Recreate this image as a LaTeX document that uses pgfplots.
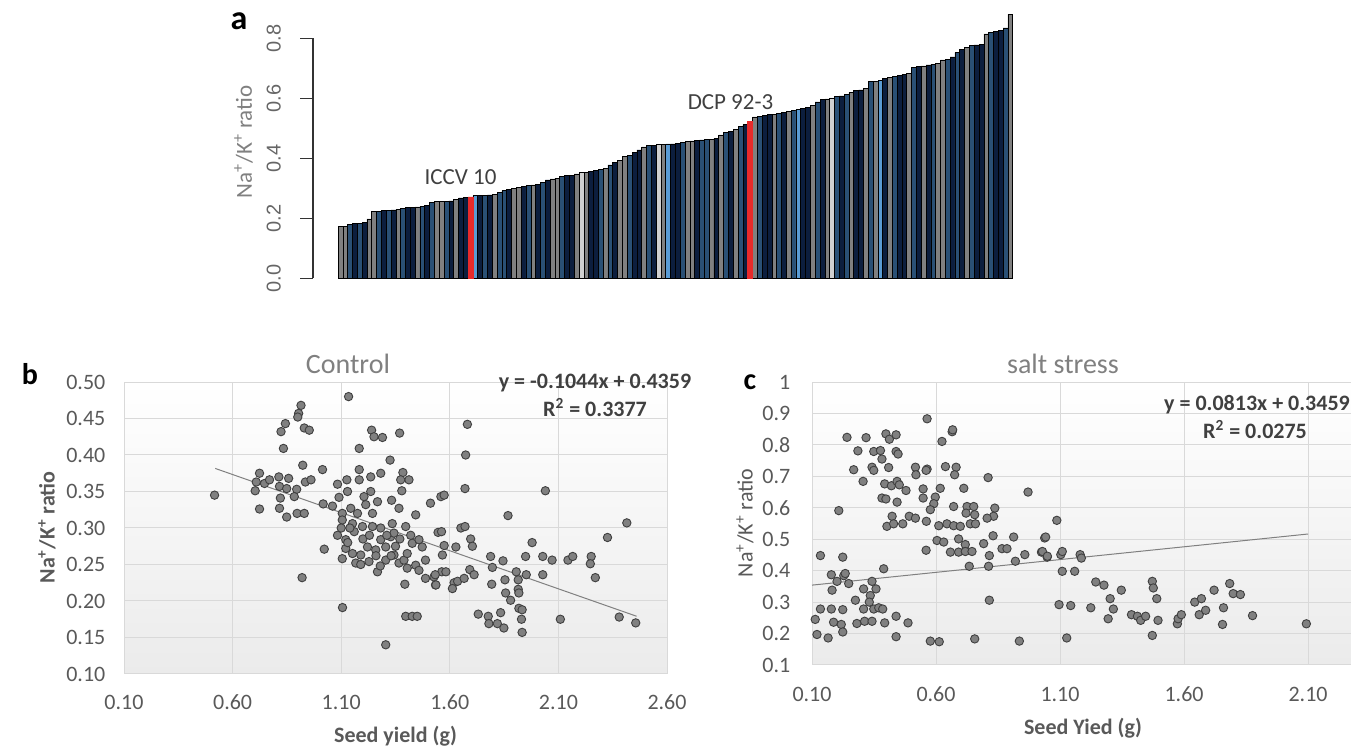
\documentclass[border=0pt]{standalone}
\usepackage{pgfplots}
\pgfplotsset{compat=1.18}
\usepackage{pgfplotstable}
\usepackage{fontspec}
\setmainfont{Carlito}
\newfontfamily\arialf{Liberation Sans}
\definecolor{cgray}{HTML}{808080}
\definecolor{cnavy}{HTML}{0C1E3E}
\definecolor{csteel}{HTML}{2A5075}
\definecolor{cblue}{HTML}{5A9BD3}
\definecolor{clgray}{HTML}{D0D0D0}
\definecolor{cred}{HTML}{E82A2A}
\definecolor{gridc}{HTML}{D9D9D9}
\definecolor{tickc}{HTML}{595959}
\definecolor{bgc}{HTML}{EBEBEB}
\definecolor{mkfill}{HTML}{808080}
\definecolor{mkedge}{HTML}{3F3F3F}
\definecolor{eqc}{HTML}{404040}

\pgfplotstableread{
i v c
0 0.174 0
1 0.174 0
2 0.180 2
3 0.183 1
4 0.183 2
5 0.186 1
6 0.198 0
7 0.222 0
8 0.224 2
9 0.225 1
10 0.226 2
11 0.228 1
12 0.230 0
13 0.234 2
14 0.236 1
15 0.237 1
16 0.238 0
17 0.239 2
18 0.242 1
19 0.252 2
20 0.255 0
21 0.256 0
22 0.257 2
23 0.258 1
24 0.263 0
25 0.268 1
26 0.270 1
27 0.271 5
28 0.275 3
29 0.276 1
30 0.277 2
31 0.278 1
32 0.280 0
33 0.285 2
34 0.292 2
35 0.296 1
36 0.299 0
37 0.302 0
38 0.306 1
39 0.309 2
40 0.311 0
41 0.313 1
42 0.320 2
43 0.328 1
44 0.331 0
45 0.334 0
46 0.340 2
47 0.342 1
48 0.344 1
49 0.348 0
50 0.352 4
51 0.354 0
52 0.357 1
53 0.360 1
54 0.362 2
55 0.365 0
56 0.378 2
57 0.385 1
58 0.392 0
59 0.405 0
60 0.410 2
61 0.420 1
62 0.428 1
63 0.438 0
64 0.442 2
65 0.444 1
66 0.446 4
67 0.447 0
68 0.448 3
69 0.448 1
70 0.449 1
71 0.452 2
72 0.455 0
73 0.458 0
74 0.460 1
75 0.461 2
76 0.462 2
77 0.463 0
78 0.466 1
79 0.478 0
80 0.485 2
81 0.490 1
82 0.497 0
83 0.505 2
84 0.512 1
85 0.524 5
86 0.538 0
87 0.540 2
88 0.542 1
89 0.545 1
90 0.547 0
91 0.550 2
92 0.553 1
93 0.556 0
94 0.560 2
95 0.563 3
96 0.566 1
97 0.570 1
98 0.575 0
99 0.588 2
100 0.595 1
101 0.598 0
102 0.601 4
103 0.605 2
104 0.608 1
105 0.612 2
106 0.620 0
107 0.626 1
108 0.628 1
109 0.632 0
110 0.655 2
111 0.657 0
112 0.659 3
113 0.665 1
114 0.670 0
115 0.674 2
116 0.677 1
117 0.680 1
118 0.684 0
119 0.702 2
120 0.706 1
121 0.708 0
122 0.711 1
123 0.714 2
124 0.716 0
125 0.728 0
126 0.730 2
127 0.738 1
128 0.752 2
129 0.762 1
130 0.770 0
131 0.776 2
132 0.778 1
133 0.779 1
134 0.815 0
135 0.820 2
136 0.823 1
137 0.827 1
138 0.835 2
139 0.880 0
}\bardata

\pgfplotstableread{
x y
0.517 0.345
0.915 0.468
0.904 0.457
0.900 0.452
0.843 0.443
0.823 0.432
0.930 0.437
0.953 0.434
0.834 0.409
0.923 0.386
1.014 0.380
0.724 0.375
0.709 0.363
0.747 0.361
0.770 0.366
0.813 0.370
0.858 0.368
0.704 0.351
0.816 0.357
0.849 0.354
0.895 0.353
0.935 0.363
0.961 0.366
0.820 0.341
0.816 0.327
0.884 0.343
0.724 0.326
0.849 0.315
0.897 0.320
0.930 0.320
1.017 0.333
1.060 0.330
1.083 0.360
1.126 0.366
1.090 0.342
1.129 0.350
1.134 0.480
1.183 0.409
1.240 0.434
1.251 0.425
1.290 0.424
1.369 0.430
1.325 0.393
1.183 0.380
1.183 0.366
1.236 0.370
1.282 0.375
1.384 0.376
1.412 0.366
1.374 0.366
1.379 0.351
1.236 0.350
1.205 0.343
1.267 0.336
1.213 0.332
1.244 0.320
1.332 0.338
1.366 0.327
1.105 0.320
1.144 0.327
1.175 0.320
1.105 0.311
1.152 0.306
1.443 0.318
1.511 0.334
1.083 0.290
1.121 0.284
1.160 0.295
1.198 0.302
1.244 0.302
1.282 0.300
1.335 0.306
1.397 0.302
1.022 0.271
1.105 0.258
1.121 0.272
1.152 0.265
1.167 0.252
1.190 0.263
1.221 0.274
1.259 0.270
1.228 0.254
1.267 0.240
1.282 0.284
1.305 0.274
1.328 0.288
1.343 0.293
1.305 0.256
1.343 0.263
1.366 0.252
1.389 0.256
1.404 0.265
1.427 0.279
1.404 0.245
1.443 0.249
1.458 0.284
1.473 0.274
1.488 0.256
1.458 0.242
1.488 0.231
1.527 0.233
1.534 0.222
1.546 0.294
1.393 0.223
0.920 0.232
1.106 0.191
1.397 0.179
1.427 0.179
1.450 0.179
1.305 0.140
1.130 0.280
1.200 0.285
1.260 0.262
1.310 0.290
1.350 0.275
1.190 0.250
1.280 0.248
1.330 0.262
1.140 0.300
1.370 0.285
1.420 0.290
1.100 0.300
1.230 0.290
1.681 0.442
1.673 0.400
1.670 0.354
2.040 0.351
1.868 0.317
2.415 0.307
2.326 0.287
1.559 0.343
1.574 0.345
1.562 0.295
1.651 0.300
1.670 0.302
1.696 0.285
1.704 0.275
1.574 0.276
1.628 0.274
1.566 0.263
1.979 0.280
1.788 0.261
1.796 0.246
1.845 0.255
1.949 0.261
2.028 0.261
2.071 0.256
2.144 0.256
2.166 0.261
2.251 0.261
2.247 0.251
2.270 0.232
1.563 0.240
1.582 0.240
1.533 0.236
1.536 0.222
1.620 0.225
1.636 0.227
1.666 0.231
1.612 0.217
1.692 0.243
1.712 0.236
1.793 0.223
1.854 0.229
1.857 0.211
1.906 0.240
1.915 0.229
1.915 0.216
1.918 0.211
1.952 0.236
2.028 0.236
1.880 0.201
1.918 0.190
1.933 0.188
1.930 0.175
1.933 0.157
1.731 0.182
1.777 0.179
1.780 0.169
1.819 0.169
1.834 0.184
1.849 0.163
2.109 0.175
2.380 0.178
2.456 0.170
}\controldata

\pgfplotstableread{
x y
0.564 0.883
0.665 0.842
0.667 0.848
0.624 0.811
0.241 0.824
0.318 0.823
0.398 0.835
0.412 0.818
0.439 0.832
0.285 0.781
0.349 0.779
0.376 0.782
0.439 0.779
0.447 0.771
0.382 0.755
0.268 0.721
0.342 0.729
0.349 0.719
0.409 0.728
0.306 0.684
0.517 0.729
0.519 0.705
0.564 0.723
0.560 0.719
0.638 0.731
0.681 0.729
0.675 0.705
0.810 0.696
0.393 0.676
0.420 0.670
0.443 0.684
0.452 0.673
0.479 0.655
0.548 0.660
0.617 0.662
0.712 0.662
0.971 0.650
0.382 0.631
0.398 0.628
0.443 0.618
0.548 0.631
0.597 0.634
0.591 0.613
0.208 0.591
0.577 0.594
0.671 0.604
0.725 0.604
0.752 0.604
0.721 0.583
0.756 0.578
0.837 0.599
0.832 0.573
0.806 0.567
0.423 0.573
0.402 0.541
0.429 0.549
0.466 0.549
0.492 0.573
0.517 0.567
0.561 0.557
0.611 0.543
0.644 0.549
0.671 0.543
0.698 0.541
0.738 0.549
0.759 0.549
0.830 0.511
0.913 0.507
1.038 0.504
0.604 0.496
0.631 0.491
0.691 0.501
0.718 0.483
0.560 0.465
0.658 0.459
0.691 0.459
0.718 0.461
0.745 0.461
0.792 0.486
0.815 0.448
0.812 0.414
0.866 0.470
0.886 0.470
0.958 0.451
0.920 0.430
1.025 0.459
1.048 0.443
0.734 0.414
0.134 0.448
0.224 0.443
0.389 0.406
0.178 0.387
0.228 0.384
0.234 0.391
0.201 0.366
0.248 0.359
0.181 0.338
0.342 0.366
0.358 0.342
0.308 0.342
0.335 0.321
0.275 0.306
0.331 0.300
0.349 0.278
0.369 0.282
0.308 0.278
0.385 0.278
0.815 0.306
0.134 0.278
0.178 0.278
0.224 0.276
0.113 0.245
0.187 0.236
0.218 0.229
0.224 0.205
0.281 0.232
0.312 0.239
0.342 0.239
0.393 0.234
0.439 0.255
0.487 0.234
0.120 0.197
0.165 0.186
0.439 0.190
0.577 0.176
0.613 0.174
0.756 0.183
0.936 0.176
1.087 0.560
1.042 0.507
1.029 0.461
1.049 0.446
1.103 0.451
1.109 0.461
1.181 0.451
1.186 0.440
1.109 0.398
1.159 0.398
1.244 0.364
1.277 0.354
1.347 0.338
1.302 0.311
1.315 0.278
1.294 0.247
1.224 0.282
1.096 0.292
1.143 0.289
1.127 0.186
1.388 0.260
1.412 0.255
1.425 0.242
1.445 0.255
1.472 0.366
1.476 0.345
1.490 0.311
1.495 0.242
1.472 0.194
1.573 0.231
1.576 0.247
1.589 0.260
1.643 0.300
1.670 0.311
1.661 0.260
1.687 0.274
1.721 0.338
1.759 0.282
1.755 0.229
1.784 0.359
1.798 0.327
1.827 0.324
1.876 0.257
2.093 0.231
}\saltdata

\pgfplotsset{
  excelstyle/.style={
    anchor=south west, scale only axis,
    grid=major, grid style={draw=gridc, line width=0.5pt},
    axis line style={draw=gridc, line width=0.5pt},
    major tick length=0pt,
    tick label style={font=\fontsize{11pt}{13pt}\selectfont, text=tickc},
    axis background/.style={top color=white, bottom color=bgc},
    clip=false,
  },
  barstyle/.style={ybar, bar width=1, bar shift=0pt, draw=black, line width=0.3pt, fill=#1},
  dotstyle/.style={only marks, mark=*, mark size=2.1pt, mark options={fill=mkfill, draw=mkedge, line width=0.45pt}},
}

\begin{document}
\begin{tikzpicture}
\path[use as bounding box] (0,0) rectangle (675.5pt,374.5pt);

% ---------------- panel a
\begin{axis}[
  at={(156.5pt,235.35pt)}, anchor=south west, scale only axis,
  width=351.1pt, height=120pt,
  xmin=-5.69, xmax=140, ymin=0, ymax=0.8,
  clip=false,
  axis x line=none, axis y line*=left,
  ytick={0,0.2,0.4,0.6,0.8},
  yticklabels={0.0,0.2,0.4,0.6,0.8},
  tick align=outside, major tick length=6.5pt,
  y axis line style={draw=black!80, line width=0.7pt},
  ytick style={draw=black!80, line width=0.7pt},
  yticklabel style={rotate=90, anchor=south, font=\arialf\fontsize{10pt}{12pt}\selectfont, text=black!60},
  yticklabel shift=6pt,
]
\addplot[barstyle=cgray, restrict expr to domain={\thisrow{c}}{0:0}] table[x=i,y=v]{\bardata};
\addplot[barstyle=cnavy, restrict expr to domain={\thisrow{c}}{1:1}] table[x=i,y=v]{\bardata};
\addplot[barstyle=csteel, restrict expr to domain={\thisrow{c}}{2:2}] table[x=i,y=v]{\bardata};
\addplot[barstyle=cblue, restrict expr to domain={\thisrow{c}}{3:3}] table[x=i,y=v]{\bardata};
\addplot[barstyle=clgray, restrict expr to domain={\thisrow{c}}{4:4}] table[x=i,y=v]{\bardata};
\addplot[barstyle=cred, draw=cred, restrict expr to domain={\thisrow{c}}{5:5}] table[x=i,y=v]{\bardata};
\end{axis}
\node[font=\bfseries\fontsize{17pt}{19pt}\selectfont] at (119.5pt,364pt) {a};
\node[rotate=90, font=\fontsize{11.5pt}{13pt}\selectfont, text=black!50] at (121.75pt,303.5pt) {Na\textsuperscript{+}/K\textsuperscript{+} ratio};
\node[font=\fontsize{11.5pt}{13pt}\selectfont, text=eqc] at (230.25pt,285.75pt) {ICCV 10};
\node[font=\fontsize{11.5pt}{13pt}\selectfont, text=eqc] at (365.25pt,323.5pt) {DCP 92-3};

% ---------------- panel b
\begin{axis}[excelstyle,
  at={(62pt,37.5pt)}, width=271.5pt, height=146pt,
  xmin=0.1, xmax=2.6, ymin=0.1, ymax=0.5,
  xtick={0.1,0.6,1.1,1.6,2.1,2.6},
  xticklabels={0.10,0.60,1.10,1.60,2.10,2.60},
  ytick={0.10,0.15,0.20,0.25,0.30,0.35,0.40,0.45,0.50},
  yticklabels={0.10,0.15,0.20,0.25,0.30,0.35,0.40,0.45,0.50},
  xticklabel shift=7pt, yticklabel shift=5.8pt,
]
\addplot[dotstyle] table[x=x,y=y]{\controldata};
\addplot[draw=black!50, line width=0.5pt] coordinates {(0.52,0.3816) (2.46,0.1791)};
\end{axis}
\node[font=\bfseries\fontsize{15pt}{17pt}\selectfont] at (15pt,187.5pt) {b};
\node[font=\fontsize{14pt}{16pt}\selectfont, text=black!50] at (174pt,192.75pt) {Control};
\node[font=\bfseries\fontsize{11pt}{13pt}\selectfont, text=eqc] at (297.5pt,182.75pt) {y = -0.1044x + 0.4359};
\node[font=\bfseries\fontsize{11pt}{13pt}\selectfont, text=eqc] at (297.5pt,170.75pt) {R\textsuperscript{2} = 0.3377};
\node[font=\bfseries\fontsize{11pt}{13pt}\selectfont, text=tickc] at (197.75pt,6.25pt) {Seed yield (g)};
\node[rotate=90, font=\bfseries\fontsize{11pt}{13pt}\selectfont, text=tickc] at (23.5pt,110.75pt) {Na\textsuperscript{+}/K\textsuperscript{+} ratio};

% ---------------- panel c
\begin{axis}[excelstyle,
  at={(406pt,42pt)}, width=269.5pt, height=141.5pt,
  xmin=0.1, xmax=2.273, ymin=0.1, ymax=1,
  xtick={0.1,0.6,1.1,1.6,2.1},
  xticklabels={0.10,0.60,1.10,1.60,2.10},
  ytick={0.1,0.2,0.3,0.4,0.5,0.6,0.7,0.8,0.9,1},
  yticklabels={0.1,0.2,0.3,0.4,0.5,0.6,0.7,0.8,0.9,1},
  xticklabel shift=7.5pt, yticklabel shift=7.3pt,
]
\addplot[dotstyle] table[x=x,y=y]{\saltdata};
\addplot[draw=black!50, line width=0.5pt] coordinates {(0.10,0.3540) (2.10,0.5166)};
\end{axis}
\node[font=\bfseries\fontsize{15pt}{17pt}\selectfont] at (375pt,183.25pt) {c};
\node[font=\fontsize{14pt}{16pt}\selectfont, text=black!50] at (531.5pt,192.75pt) {salt stress};
\node[font=\bfseries\fontsize{11pt}{13pt}\selectfont, text=eqc] at (628.5pt,172pt) {y = 0.0813x + 0.3459};
\node[font=\bfseries\fontsize{11pt}{13pt}\selectfont, text=eqc] at (627.5pt,159.5pt) {R\textsuperscript{2} = 0.0275};
\node[font=\bfseries\fontsize{11pt}{13pt}\selectfont, text=tickc] at (541.5pt,10.25pt) {Seed Yied (g)};
\node[rotate=90, font=\fontsize{11pt}{13pt}\selectfont, text=tickc] at (372.5pt,113pt) {Na\textsuperscript{+}/K\textsuperscript{+} ratio};
\end{tikzpicture}
\end{document}
